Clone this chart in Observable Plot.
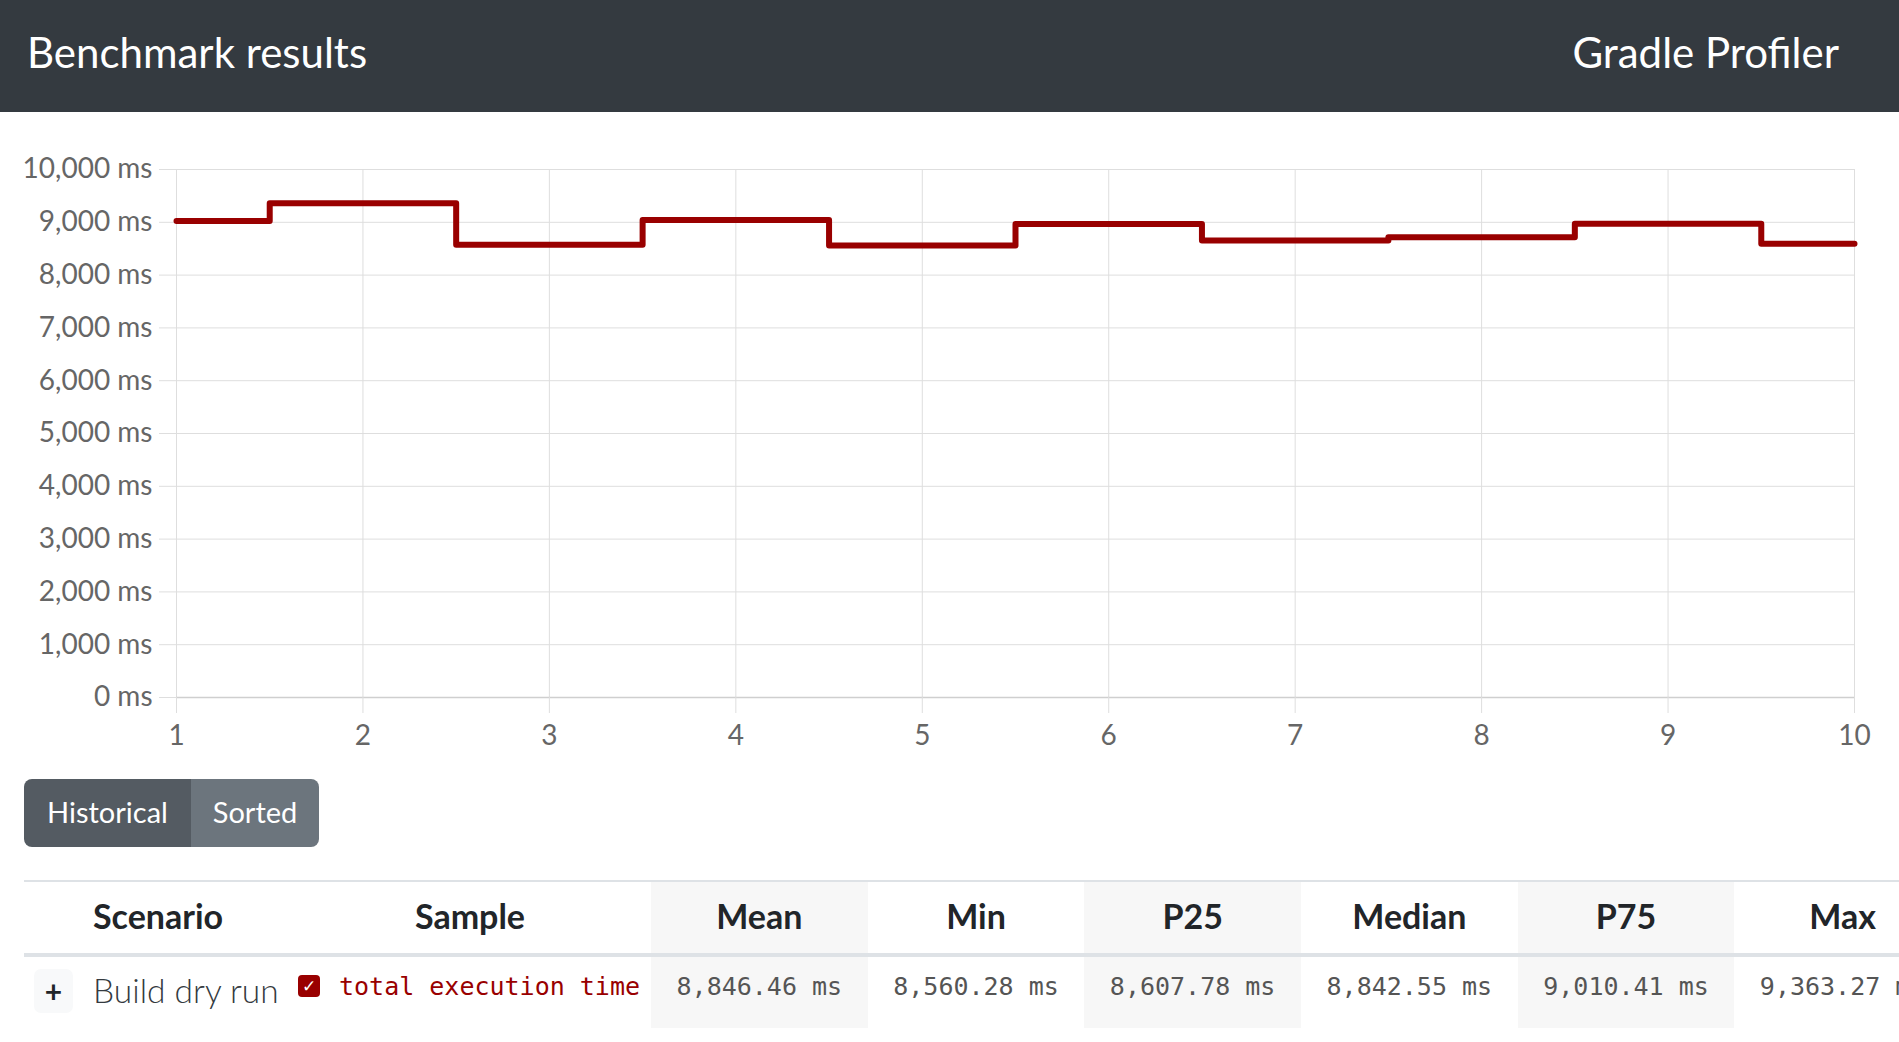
<!DOCTYPE html>
<html><head><meta charset="utf-8">
<script src="https://cdn.jsdelivr.net/npm/d3@7"></script>
<script src="https://cdn.jsdelivr.net/npm/@observablehq/plot@0.6"></script>
<style>
html,body{margin:0;padding:0;width:1899px;height:1042px;overflow:hidden;background:#fff;font-family:Lato,"Noto Sans",sans-serif;}
.abs{position:absolute;white-space:nowrap;line-height:1;}
#hdr{position:absolute;left:0;top:0;width:1899px;height:112px;background:#343a40;}
#chart{position:absolute;left:0;top:112px;}
.btn{position:absolute;top:779px;height:68px;color:#fff;font-size:29px;display:flex;align-items:center;justify-content:center;padding-bottom:4px;box-sizing:border-box;}
.mono{font-family:"DejaVu Sans Mono","Liberation Mono",monospace;}
</style></head>
<body>
<div id="hdr"></div>
<div class="abs" style="left:27px;top:31px;font-size:42px;color:#fff;">Benchmark results</div>
<div class="abs" style="right:60px;top:31px;font-size:42px;color:#fff;">Gradle Profiler</div>
<div id="chart"></div>
<div class="btn" style="left:24px;width:167px;background:#545b62;border-radius:8px 0 0 8px;">Historical</div>
<div class="btn" style="left:191px;width:128px;background:#6c757d;border-radius:0 8px 8px 0;">Sorted</div>
<div id="table"></div>
<script>
// ---- data ----
const runs = [1, 2, 3, 4, 5, 6, 7, 8, 9, 10];
const times = [9024, 9363, 8573, 9043, 8560, 8968, 8655, 8717, 8972, 8592];
const yTicks = [0, 1000, 2000, 3000, 4000, 5000, 6000, 7000, 8000, 9000, 10000];
const columns = ["Scenario", "Sample", "Mean", "Min", "P25", "Median", "P75", "Max"];
const scenarioName = "Build dry run";
const sampleName = "total execution time";
const statValues = [8846.46, 8560.28, 8607.78, 8842.55, 9010.41, 9363.27];

const data = runs.map((r, i) => ({run: r, time: times[i]}));
const fmt = d3.format(",");
const gridColor = "#dedede";

const chart = Plot.plot({
  width: 1899,
  height: 650,
  marginTop: 57,
  marginBottom: 65,
  marginLeft: 176,
  marginRight: 45,
  style: {fontFamily: "Lato, 'Noto Sans', sans-serif", fontSize: "28px", background: "#fff", overflow: "visible"},
  x: {type: "linear", domain: [1, 10]},
  y: {domain: [0, 10000]},
  marks: [
    Plot.gridY(yTicks, {stroke: gridColor, strokeOpacity: 1}),
    Plot.gridX(runs, {stroke: gridColor, strokeOpacity: 1}),
    Plot.ruleY([0], {stroke: "#cfcfcf", strokeWidth: 1.5}),
    Plot.axisY(yTicks, {tickSize: 17, tickPadding: 7, stroke: gridColor, fill: "#666", tickFormat: d => fmt(d) + " ms", label: null}),
    Plot.axisX(runs, {tickSize: 16, tickPadding: 12, stroke: gridColor, fill: "#666", tickFormat: d => String(d), label: null}),
    Plot.line(data, {x: "run", y: "time", curve: "step", stroke: "#990000", strokeWidth: 6})
  ]
});
document.getElementById("chart").appendChild(chart);

// ---- table ----
const t = document.getElementById("table");
function add(html, style) {
  const d = document.createElement("div");
  d.className = "abs";
  d.style.cssText = style;
  d.innerHTML = html;
  t.appendChild(d);
  return d;
}
const colLeft = [24, 289, 651, 867.7, 1084.3, 1301, 1517.7, 1734.3];
const colW = 216.7;
// shaded stat columns
[2, 4, 6].forEach(i => add("", `left:${colLeft[i]}px;top:882px;width:${colW}px;height:146px;background:#f7f7f7;`));
// borders
add("", "left:24px;top:880px;width:1875px;height:2px;background:#dee2e6;");
add("", "left:24px;top:953px;width:1875px;height:4px;background:#dee2e6;");
// header texts
columns.forEach((c, i) => {
  if (i === 0) add(c, "left:93px;top:899px;font-size:34px;font-weight:700;color:#212529;");
  else {
    const center = i === 1 ? 470 : colLeft[i] + colW / 2;
    add(c, `left:${center - 150}px;width:300px;text-align:center;top:899px;font-size:34px;font-weight:700;color:#212529;`);
  }
});
// row
add("+", "left:34px;top:969px;width:39px;height:44px;background:#f8f9fa;border-radius:7px;display:flex;align-items:center;justify-content:center;font-size:30px;font-weight:700;color:#212529;");
add(scenarioName, "left:93px;top:974px;font-size:33.5px;font-weight:300;color:#343a40;");
add("✓", "left:298px;top:975px;width:22px;height:22px;background:#990000;border-radius:4px;color:#fff;font-size:17px;font-weight:700;display:flex;align-items:center;justify-content:center;font-family:'DejaVu Sans',sans-serif;");
add(sampleName, "left:339px;top:973.5px;font-size:25px;color:#990000;").classList.add("mono");
statValues.forEach((v, j) => {
  const i = j + 2;
  const center = colLeft[i] + colW / 2;
  add(d3.format(",.2f")(v) + " ms", `left:${center - 150}px;width:300px;text-align:center;top:973.5px;font-size:25px;color:#555;`).classList.add("mono");
});
</script>
</body></html>
